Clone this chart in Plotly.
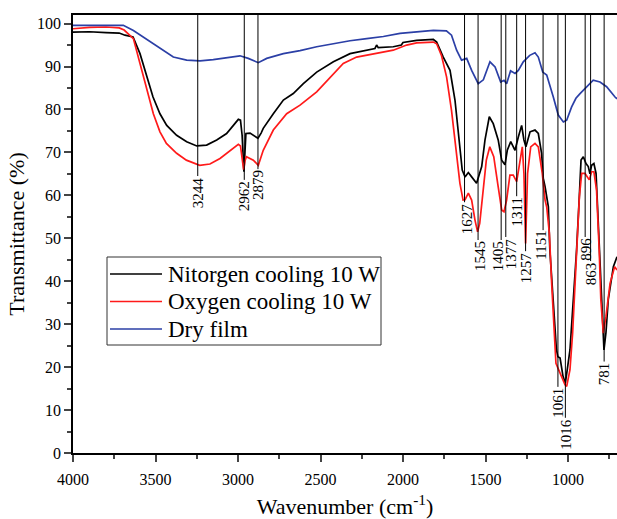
import plotly.graph_objects as go

# ---------------- data ----------------
n2_wn = [4000, 3900, 3800, 3720, 3685, 3636, 3594, 3553, 3515, 3473, 3432, 3372, 3311, 3250,
         3190, 3129, 3069, 3028, 2998, 2985, 2975, 2964, 2958, 2952, 2927, 2900, 2887, 2879,
         2860, 2847, 2786, 2725, 2665, 2604, 2523, 2422, 2321, 2220, 2170, 2160, 2150, 2059,
         2010, 2000, 1978, 1917, 1816, 1796, 1756, 1715, 1685, 1659, 1641, 1624, 1604, 1584,
         1554, 1523, 1503, 1477, 1453, 1423, 1402, 1382, 1368, 1347, 1321, 1301, 1281, 1267,
         1255, 1230, 1200, 1180, 1160, 1150, 1139, 1119, 1110, 1090, 1070, 1061, 1048, 1030,
         1016, 988, 968, 948, 931, 921, 907, 891, 877, 867, 857, 843, 830, 820, 806, 796, 782,
         770, 756, 725, 703]
n2_t = [98.0, 98.1, 97.9, 97.8, 97.3, 96.9, 93.0, 87.6, 82.9, 79.0, 76.3, 74.0, 72.5, 71.5,
        71.7, 72.9, 74.4, 76.3, 77.7, 77.5, 74.0, 65.5, 70.0, 74.4, 74.5, 73.8, 73.6, 73.3,
        74.5, 75.6, 79.0, 82.2, 83.7, 86.0, 88.7, 91.1, 93.0, 93.8, 94.2, 95.0, 94.4, 94.6,
        95.0, 95.6, 95.7, 96.1, 96.3, 95.7, 92.2, 89.1, 82.2, 72.9, 65.9, 64.3, 65.3, 64.3,
        62.8, 66.7, 72.9, 78.3, 76.7, 72.9, 68.2, 67.1, 70.5, 72.5, 70.5, 73.6, 76.3, 72.9,
        71.3, 74.8, 75.2, 74.4, 69.8, 64.0, 62.0, 57.3, 47.3, 35.7, 24.0, 22.4, 22.1, 17.8,
        16.3, 24.0, 35.7, 47.3, 60.0, 68.2, 69.0, 67.4, 66.7, 65.0, 67.0, 67.4, 65.1, 56.0,
        47.3, 35.7, 24.0, 28.0, 35.7, 43.4, 45.7]

o2_wn = [4000, 3900, 3800, 3720, 3690, 3634, 3594, 3553, 3513, 3473, 3434, 3372, 3313, 3232,
         3170, 3109, 3048, 2998, 2985, 2975, 2966, 2958, 2949, 2907, 2877, 2847, 2786, 2705,
         2624, 2523, 2422, 2362, 2281, 2160, 2059, 1978, 1917, 1816, 1796, 1767, 1736, 1706,
         1679, 1655, 1636, 1624, 1604, 1584, 1564, 1548, 1535, 1513, 1495, 1474, 1450, 1423,
         1402, 1388, 1372, 1352, 1332, 1311, 1292, 1277, 1267, 1257, 1245, 1226, 1200, 1180,
         1156, 1139, 1129, 1113, 1099, 1085, 1073, 1048, 1018, 1008, 988, 972, 958, 944, 931,
         917, 897, 871, 857, 843, 827, 811, 801, 786, 770, 745, 717, 703]
o2_t = [98.8, 99.1, 99.2, 99.0, 98.5, 96.5, 90.7, 84.5, 79.0, 74.8, 72.1, 69.8, 68.2, 67.0,
        67.3, 68.6, 70.5, 71.9, 71.5, 69.0, 66.0, 68.0, 69.0, 68.2, 67.0, 70.5, 75.2, 79.0,
        81.0, 84.1, 88.4, 90.7, 92.2, 93.0, 93.8, 95.0, 95.5, 95.7, 95.3, 92.6, 87.6, 79.8,
        70.5, 62.8, 58.9, 59.0, 60.5, 58.9, 54.3, 51.5, 53.5, 61.2, 68.2, 71.3, 69.0, 62.0,
        56.6, 56.2, 58.9, 64.7, 64.7, 63.2, 68.2, 71.3, 65.1, 48.8, 65.1, 71.3, 72.1, 71.3,
        65.1, 58.9, 57.3, 51.2, 39.5, 27.9, 20.9, 18.6, 15.9, 15.5, 19.4, 27.9, 38.0, 47.3, 59.7,
        65.1, 65.1, 63.6, 65.5, 65.5, 61.2, 47.3, 35.7, 27.9, 31.8, 39.5, 43.4, 42.6]

dry_wn = [4000, 3800, 3695, 3634, 3574, 3513, 3453, 3392, 3311, 3230, 3150, 3069, 2988, 2938,
          2877, 2826, 2725, 2624, 2523, 2422, 2321, 2220, 2119, 2018, 1917, 1816, 1737, 1706,
          1675, 1645, 1614, 1584, 1544, 1513, 1473, 1442, 1408, 1388, 1372, 1348, 1321, 1301,
          1271, 1232, 1200, 1180, 1153, 1129, 1089, 1059, 1028, 1008, 978, 952, 927, 907, 883,
          847, 806, 766, 715, 703]
dry_t = [99.6, 99.6, 99.6, 98.4, 96.9, 95.3, 93.8, 92.2, 91.5, 91.3, 91.6, 92.1, 92.5, 91.9,
         90.9, 91.9, 93.0, 93.7, 94.6, 95.3, 96.0, 96.5, 97.0, 97.7, 98.0, 98.4, 98.3, 97.3,
         93.8, 91.5, 91.9, 89.1, 86.0, 86.9, 91.1, 89.9, 86.4, 86.8, 86.0, 89.0, 88.4, 89.1,
         91.1, 92.6, 93.2, 92.2, 88.7, 88.0, 82.9, 78.7, 77.1, 77.5, 80.6, 82.6, 83.7, 84.5, 85.3,
         86.8, 86.4, 85.3, 82.9, 82.5]

peak_wn = [3244, 2962, 2879, 1627, 1545, 1405, 1377, 1311, 1257, 1151, 1061, 1016, 896, 863, 781]
peak_level = [64.5, 63.6, 66.1, 58.4, 49.6, 49.6, 50.3, 59.8, 47.0, 51.9, 15.4, 8.2, 50.3, 44.7, 21.3]

series_names = ["Nitorgen cooling 10 W", "Oxygen cooling 10 W", "Dry film"]
series_colors = ["#000000", "#ff1a1a", "#2b3fa6"]

x_ticks = [4000, 3500, 3000, 2500, 2000, 1500, 1000]
y_ticks = [0, 10, 20, 30, 40, 50, 60, 70, 80, 90, 100]

# ---------------- layout / style ----------------
X_RANGE = [4000, 703]
Y_TOP = 102
FONT = "Liberation Serif"
# horizontal nudges (px) of crowded peak labels
label_xshift = {1627: 2, 1545: 2, 1405: -3, 1377: 5, 1151: -2, 1016: 1}

fig = go.Figure()
for xs, ys, name, col in zip([n2_wn, o2_wn, dry_wn], [n2_t, o2_t, dry_t], series_names, series_colors):
    fig.add_trace(go.Scatter(x=xs, y=ys, mode="lines", name=name, showlegend=False,
                             line=dict(color=col, width=1.7)))

shapes = []
annotations = []
for w, lvl in zip(peak_wn, peak_level):
    shapes.append(dict(type="line", xref="x", yref="y", x0=w, x1=w, y0=lvl, y1=Y_TOP,
                       line=dict(color="black", width=1)))
    annotations.append(dict(x=w, y=lvl, xref="x", yref="y", text=str(w), showarrow=False,
                            textangle=-90, xanchor="center", yanchor="top",
                            xshift=label_xshift.get(w, 0),
                            font=dict(family=FONT, size=15, color="black"),
                            borderpad=0))

# legend box drawn in paper coordinates (plot area: 544 x 438 px)
PW, PH = 544.0, 438.0
def px(xp):
    return (xp - 73) / PW
def py(yp):
    return (453 - yp) / PH

shapes.append(dict(type="rect", xref="paper", yref="paper",
                   x0=px(107), x1=px(381), y0=py(345), y1=py(257),
                   fillcolor="white", line=dict(color="#333333", width=1), layer="above"))
row_y = [274, 301.5, 329]
for name, col, ry in zip(series_names, series_colors, row_y):
    shapes.append(dict(type="line", xref="paper", yref="paper",
                       x0=px(110), x1=px(162), y0=py(ry), y1=py(ry),
                       line=dict(color=col, width=1.6), layer="above"))
    annotations.append(dict(x=px(166), y=py(ry), xref="paper", yref="paper", text=name,
                            showarrow=False, xanchor="left", yanchor="middle",
                            font=dict(family=FONT, size=23, color="black")))

fig.update_layout(
    width=617, height=519,
    margin=dict(l=73, r=0, t=15, b=66, autoexpand=False),
    paper_bgcolor="white", plot_bgcolor="white",
    font=dict(family=FONT, size=16, color="black"),
    shapes=shapes, annotations=annotations,
    showlegend=False,
    xaxis=dict(range=X_RANGE, tickvals=x_ticks, ticks="outside", ticklen=7, tickwidth=1.5,
               showline=True, linecolor="black", linewidth=1.5, mirror=True,
               showgrid=False, zeroline=False, automargin=False, ticklabelstandoff=4,
               minor=dict(dtick=250, tick0=0, ticks="outside", ticklen=4, tickwidth=1.5,
                          showgrid=False),
               tickfont=dict(family=FONT, size=16),
               title=dict(text="Wavenumber (cm<sup>-1</sup>)", standoff=14,
                          font=dict(family=FONT, size=22))),
    yaxis=dict(range=[0, Y_TOP], tickvals=y_ticks, ticks="outside", ticklen=7, tickwidth=1.5,
               showline=True, linecolor="black", linewidth=1.5, mirror=False,
               showgrid=False, zeroline=False, automargin=False,
               minor=dict(dtick=5, tick0=0, ticks="outside", ticklen=4, tickwidth=1.5,
                          showgrid=False),
               tickfont=dict(family=FONT, size=16),
               title=dict(text="Transmittance (%)", standoff=6,
                          font=dict(family=FONT, size=22))),
)

fig.write_html("out.html", config={"displayModeBar": False},
               post_script="document.body.style.margin='0';")
